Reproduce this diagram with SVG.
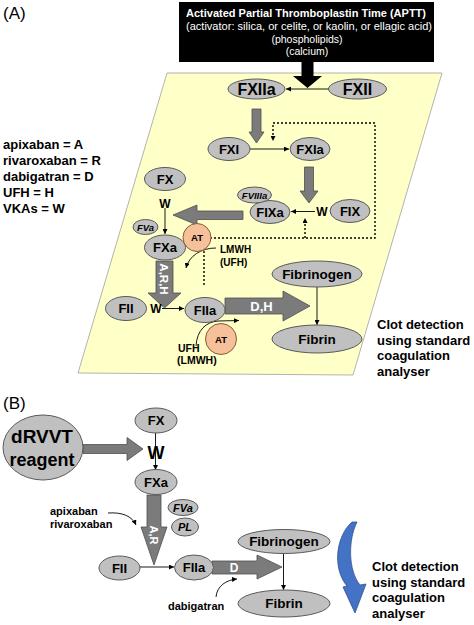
<svg xmlns="http://www.w3.org/2000/svg" width="474" height="625" viewBox="0 0 474 625">
<style>
text{font-family:"Liberation Sans",Arial,sans-serif}
.n{fill:#c0c0c0;stroke:#5a5a5a;stroke-width:1}
.at{fill:#f6c09a;stroke:#8a5a3a;stroke-width:1}
.ga{fill:#7b7b7b;stroke:#4f4f4f;stroke-width:0.8}
.l{stroke:#000;stroke-width:0.9;fill:none}
.d{stroke:#000;stroke-width:1.4;fill:none;stroke-dasharray:2 2}
.b{font-weight:bold;fill:#000}
.c{text-anchor:middle}
.w{font-weight:bold;fill:#fff}
.i{font-weight:bold;font-style:italic}
</style>
<defs>
<marker id="ah" viewBox="0 0 6 6" refX="6" refY="3" markerWidth="5" markerHeight="5" markerUnits="userSpaceOnUse" orient="auto"><path d="M0,0L6,3L0,6z" fill="#000"/></marker>
</defs>

<!-- Panel A background -->
<text x="3" y="19" font-size="17">(A)</text>
<polygon points="167,73 442,73 353,375 78,373" fill="#ffffc8" stroke="#a0a0a0" stroke-width="0.8"/>

<g id="aptt">
<rect x="179" y="2" width="255" height="60" fill="#000"/>
<text class="w c" x="306" y="17" font-size="10.5" textLength="240" lengthAdjust="spacingAndGlyphs">Activated Partial Thromboplastin Time (APTT)</text>
<text class="c" x="309" y="30" font-size="10.5" fill="#fff" textLength="246" lengthAdjust="spacingAndGlyphs">(activator: silica, or celite, or kaolin, or ellagic acid)</text>
<text class="c" x="307" y="42.5" font-size="10.5" fill="#fff">(phospholipids)</text>
<text class="c" x="307" y="55" font-size="10.5" fill="#fff">(calcium)</text>
</g>

<g id="legend" class="b" font-size="13">
<text x="3" y="149">apixaban = A</text>
<text x="3" y="165">rivaroxaban = R</text>
<text x="3" y="181">dabigatran = D</text>
<text x="3" y="197">UFH = H</text>
<text x="3" y="213">VKAs = W</text>
</g>

<g id="connectors-A">
<polygon points="301.5,62 313.5,62 313.5,76 322,76 307.5,88 293,76 301.5,76" fill="#000"/>
<line class="l" x1="329" y1="89" x2="286" y2="89" marker-end="url(#ah)"/>
<polygon class="ga" points="252,109 261,109 261,132 264,132 256.5,143 249,132 252,132"/>
<line class="l" x1="250" y1="149" x2="289" y2="149" marker-end="url(#ah)"/>
<path class="d" d="M210,238 H375 V123 H273 V141" marker-end="url(#ah)"/>
<polygon class="ga" points="304.5,167 313.5,167 313.5,191 318,191 309,203 300,191 304.5,191"/>
<line class="l" x1="315" y1="211.5" x2="291" y2="211.5" marker-end="url(#ah)"/>
<path class="d" d="M305,238 V218" marker-end="url(#ah)"/>
<polygon class="ga" points="243,211 243,219.5 197,219.5 197,225 173,215 197,205 197,211"/>
<line class="l" x1="165" y1="208" x2="165" y2="234" marker-end="url(#ah)"/>
<path class="d" d="M204,251 V287"/>
<path class="l" d="M216,248 C201,248 189,256 186,268" marker-end="url(#ah)"/>
<polygon class="ga" points="156,261 173,261 173,293 181,293 164.5,308 148,293 156,293"/>
<line class="l" x1="162" y1="308.5" x2="184" y2="308.5" marker-end="url(#ah)"/>
<polygon class="ga" points="225,298 283,298 283,291 310,306 283,321 283,314 225,314"/>
<path class="l" d="M196,346 C197,330 206,322 218,321 L239,320.5" marker-end="url(#ah)"/>
<line class="l" x1="317" y1="287" x2="317" y2="325" marker-end="url(#ah)"/>
<text class="w" x="0" y="0" font-size="11.5" transform="translate(160,279) rotate(90)" text-anchor="middle">A,R,H</text>
<text class="w c" x="261.5" y="311" font-size="13">D,H</text>
</g>

<g id="FXIIa"><ellipse class="n" cx="256.5" cy="89" rx="28.5" ry="10"/><text class="b c" x="256.5" y="95" font-size="16">FXIIa</text></g>
<g id="FXII"><ellipse class="n" cx="357.5" cy="89" rx="29" ry="10"/><text class="b c" x="357.5" y="95" font-size="16">FXII</text></g>
<g id="FXI"><ellipse class="n" cx="229" cy="149" rx="21" ry="11.5"/><text class="b c" x="229" y="153.5" font-size="13">FXI</text></g>
<g id="FXIa"><ellipse class="n" cx="310" cy="149" rx="20" ry="11.5"/><text class="b c" x="310" y="153.5" font-size="13">FXIa</text></g>
<g id="FX-A"><ellipse class="n" cx="165" cy="179" rx="20.5" ry="11.5"/><text class="b c" x="165" y="183.5" font-size="13">FX</text></g>
<g id="W-A1"><text class="b c" x="165" y="207.5" font-size="12">W</text></g>
<g id="FIXa"><ellipse class="n" cx="270" cy="212" rx="20" ry="11.5"/><text class="b c" x="270" y="216.5" font-size="13">FIXa</text></g>
<g id="FVIIIa"><ellipse class="n" cx="254.5" cy="195" rx="17" ry="8"/><text class="i c" x="254.5" y="198.5" font-size="9.5">FVIIIa</text></g>
<g id="FIX"><ellipse class="n" cx="350" cy="211" rx="20" ry="11.5"/><text class="b c" x="350" y="215.5" font-size="13">FIX</text></g>
<g id="W-A2"><text class="b c" x="322" y="215.5" font-size="12">W</text></g>
<g id="FVa-A"><ellipse class="n" cx="145.5" cy="227" rx="12.5" ry="7.5"/><text class="i c" x="145.5" y="230.5" font-size="9.5">FVa</text></g>
<g id="FXa-A"><ellipse class="n" cx="165" cy="247.5" rx="20.5" ry="12.5"/><text class="b c" x="165" y="252" font-size="13">FXa</text></g>
<g id="AT1"><circle class="at" cx="197" cy="237.5" r="14"/><text class="b c" x="197" y="241" font-size="9.5">AT</text></g>
<g id="lmwh1" class="b" font-size="10"><text x="220" y="253">LMWH</text><text x="220" y="266">(UFH)</text></g>
<g id="FII-A"><ellipse class="n" cx="126" cy="308.5" rx="20.5" ry="12"/><text class="b c" x="126" y="313" font-size="13">FII</text></g>
<g id="W-A3"><text class="b c" x="156" y="313" font-size="12">W</text></g>
<g id="FIIa-A"><ellipse class="n" cx="205" cy="310" rx="20" ry="12.5"/><text class="b c" x="205" y="314.5" font-size="13">FIIa</text></g>
<g id="AT2"><circle class="at" cx="221" cy="339" r="15.5"/><text class="b c" x="221" y="342.5" font-size="9.5">AT</text></g>
<g id="ufh2" class="b" font-size="10.5"><text x="178" y="352">UFH</text><text x="177" y="364">(LMWH)</text></g>
<g id="Fibrinogen-A"><ellipse class="n" cx="317" cy="274" rx="45" ry="13"/><text class="b c" x="317" y="278.5" font-size="13.5">Fibrinogen</text></g>
<g id="Fibrin-A"><ellipse class="n" cx="317" cy="339" rx="45" ry="14"/><text class="b c" x="317" y="343.5" font-size="13.5">Fibrin</text></g>
<g id="clot-A" class="b" font-size="13"><text x="377" y="329">Clot detection</text><text x="377" y="344.5">using standard</text><text x="377" y="360">coagulation</text><text x="377" y="375.5">analyser</text></g>

<!-- Panel B -->
<text x="3" y="409" font-size="17">(B)</text>
<g id="connectors-B">
<polygon class="ga" points="83,444.5 127,444.5 127,437.5 143,449 127,460.5 127,453.5 83,453.5"/>
<line class="l" x1="155.5" y1="433" x2="155.5" y2="470" marker-end="url(#ah)"/>
<polygon class="ga" points="147,495 161,495 161,527 167,527 154,565 141,527 147,527"/>
<path class="l" d="M108,513 C122,512 132,516 136,525" marker-end="url(#ah)"/>
<line class="l" x1="140" y1="567" x2="174" y2="567" marker-end="url(#ah)"/>
<polygon class="ga" points="212,561 257,561 257,555 282,567 257,579 257,574 212,574"/>
<path class="l" d="M216,597 C217,586 226,580 237,579" marker-end="url(#ah)"/>
<line class="l" x1="283.5" y1="553" x2="283.5" y2="590" marker-end="url(#ah)"/>
<text class="w" x="0" y="0" font-size="11" transform="translate(150,535) rotate(90)" text-anchor="middle">A,R</text>
<text class="w c" x="234" y="572" font-size="12">D</text>
<path d="M352,522 C336,536 332,568 347,586 L343,587 L355,613 L366,584 L360,585 C348,570 348,540 357,522 Z" fill="#4472c4" stroke="#2f528f" stroke-width="0.8"/>
</g>
<g id="dRVVT"><ellipse class="n" cx="43" cy="447.5" rx="40" ry="32.5"/><text class="b c" x="42" y="443" font-size="19">dRVVT</text><text class="b c" x="42" y="466" font-size="18">reagent</text></g>
<g id="FX-B"><ellipse class="n" cx="156" cy="420.5" rx="21" ry="12.5"/><text class="b c" x="156" y="425" font-size="13">FX</text></g>
<g id="W-B"><text class="b c" x="156" y="458.5" font-size="18">W</text></g>
<g id="FXa-B"><ellipse class="n" cx="156" cy="482" rx="21" ry="12.5"/><text class="b c" x="156" y="486.5" font-size="13">FXa</text></g>
<g id="FVa-B"><ellipse class="n" cx="183" cy="507.5" rx="15" ry="8"/><text class="i c" x="183" y="511.5" font-size="11">FVa</text></g>
<g id="PL"><ellipse class="n" cx="185" cy="527" rx="13.5" ry="9"/><text class="i c" x="185" y="531" font-size="11">PL</text></g>
<g id="apix" class="b" font-size="11"><text x="50" y="515">apixaban</text><text x="50" y="528">rivaroxaban</text></g>
<g id="FII-B"><ellipse class="n" cx="119.5" cy="568" rx="20.5" ry="12"/><text class="b c" x="119.5" y="572.5" font-size="13">FII</text></g>
<g id="FIIa-B"><ellipse class="n" cx="194" cy="567.5" rx="19.5" ry="12.5"/><text class="b c" x="194" y="572" font-size="13">FIIa</text></g>
<g id="dabi"><text class="b" x="168" y="610" font-size="11">dabigatran</text></g>
<g id="Fibrinogen-B"><ellipse class="n" cx="284" cy="541.5" rx="46" ry="12"/><text class="b c" x="284" y="546" font-size="13.5">Fibrinogen</text></g>
<g id="Fibrin-B"><ellipse class="n" cx="284" cy="603.5" rx="46" ry="13.5"/><text class="b c" x="284" y="608" font-size="13.5">Fibrin</text></g>
<g id="clot-B" class="b" font-size="13"><text x="372" y="571">Clot detection</text><text x="372" y="587">using standard</text><text x="372" y="602">coagulation</text><text x="372" y="618">analyser</text></g>
</svg>
